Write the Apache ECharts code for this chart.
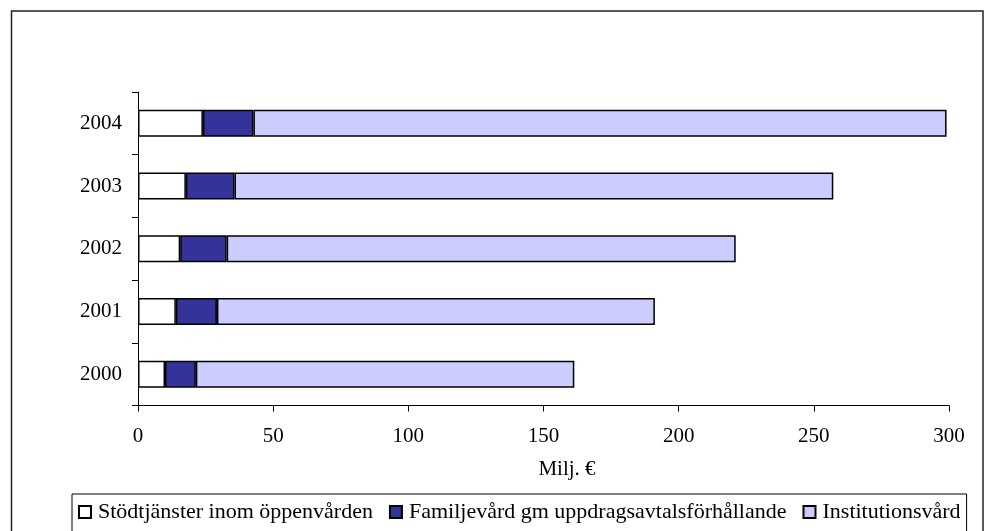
<!DOCTYPE html>
<html>
<head>
<meta charset="utf-8">
<style>
  html, body { margin: 0; padding: 0; background: #fff; }
  #chart { width: 989px; height: 531px; }
</style>
</head>
<body>
<div id="chart"></div>
<script src="https://cdn.jsdelivr.net/npm/echarts@6/dist/echarts.min.js"></script>
<script>
    // data (Milj. €)
    var years = ['2000', '2001', '2002', '2003', '2004'];
    var oppenvard = [10.0, 14.0, 15.6, 17.7, 24.0];
    var familjevard = [11.4, 15.2, 17.2, 18.0, 18.7];
    var institution = [140.0, 162.0, 188.3, 221.5, 256.4];
    var seriesNames = ['Stödtjänster inom öppenvården', 'Familjevård gm uppdragsavtalsförhållande', 'Institutionsvård'];
    var seriesColors = ['#ffffff', '#333399', '#ccccff'];

    var font = 'Liberation Serif, Times New Roman, serif';
    var chart = echarts.init(document.getElementById('chart'));

    function makeSeries(i, data) {
        return {
            name: seriesNames[i],
            type: 'bar',
            stack: 'total',
            barWidth: 27,
            data: data,
            itemStyle: {
                color: seriesColors[i],
                borderColor: '#000',
                borderWidth: 1.5
            }
        };
    }

    var option = {
        animation: false,
        backgroundColor: '#fff',
        graphic: [{
            type: 'rect',
            shape: { x: 11.5, y: 11, width: 971.5, height: 560 },
            style: { fill: 'none', stroke: '#222', lineWidth: 1.5 },
            silent: true
        }],
        grid: {
            left: 138,
            right: 40,
            top: 92,
            bottom: 125.5
        },
        legend: {
            left: 72,
            top: 494,
            padding: [7, 6, 40, 6],
            borderColor: '#000',
            borderWidth: 1,
            itemWidth: 12,
            itemHeight: 12,
            itemGap: 16,
            icon: 'rect',
            data: seriesNames,
            textStyle: { fontFamily: font, fontSize: 22, color: '#000', padding: [0, 0, 0, 2] }
        },
        xAxis: {
            type: 'value',
            min: 0,
            max: 300,
            interval: 50,
            name: 'Milj. €',
            nameLocation: 'middle',
            nameGap: 53,
            nameTextStyle: { fontFamily: font, fontSize: 21, color: '#000', padding: [0, 0, 0, 47] },
            axisLine: { show: true, lineStyle: { color: '#000', width: 1 } },
            axisTick: { show: true, length: 6, lineStyle: { color: '#000' } },
            axisLabel: { fontFamily: font, fontSize: 21, color: '#000', margin: 20 },
            splitLine: { show: false }
        },
        yAxis: {
            type: 'category',
            data: years,
            axisLine: { show: true, lineStyle: { color: '#000', width: 1 } },
            axisTick: { show: true, length: 6, lineStyle: { color: '#000' } },
            axisLabel: { fontFamily: font, fontSize: 21, color: '#000', margin: 16 }
        },
        series: [
            makeSeries(0, oppenvard),
            makeSeries(1, familjevard),
            makeSeries(2, institution)
        ]
    };

    chart.setOption(option);
</script>
</body>
</html>
